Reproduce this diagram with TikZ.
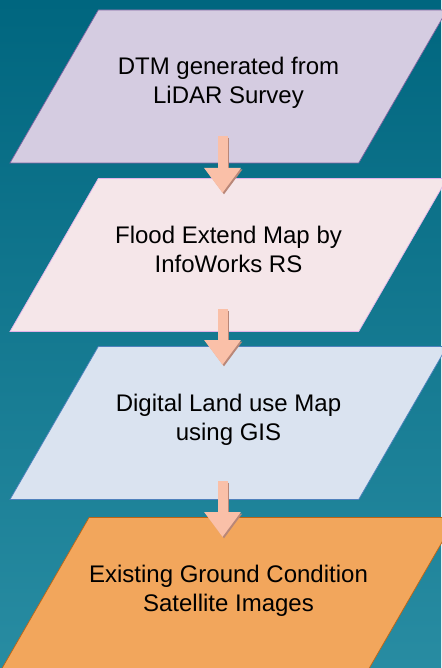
\documentclass[tikz,border=0pt]{standalone}
\usepackage{fontspec}
\setmainfont{Liberation Sans}
\usetikzlibrary{shapes.geometric}
\usetikzlibrary{arrows.meta}

\definecolor{bgtop}{RGB}{0,102,127}
\definecolor{bgbottom}{RGB}{40,140,162}
\definecolor{dtmfill}{RGB}{213,204,225}
\definecolor{dtmline}{RGB}{128,100,162}
\definecolor{floodfill}{RGB}{245,230,233}
\definecolor{floodline}{RGB}{226,178,232}
\definecolor{landfill}{RGB}{218,227,240}
\definecolor{landline}{RGB}{79,129,189}
\definecolor{groundfill}{RGB}{242,166,92}
\definecolor{groundline}{RGB}{190,100,20}
\definecolor{arrowfill}{RGB}{250,192,168}
\definecolor{arrowshade}{RGB}{185,135,120}

\begin{document}
\begin{tikzpicture}[x=1pt,y=-1pt,
	stage/.style={trapezium, trapezium left angle=60, trapezium right angle=120,
		trapezium stretches body=true, minimum width=437pt,
		text height=93.5pt, text depth=59.5pt, inner sep=0pt,
		line width=0.7pt, align=center, font=\fontsize{24}{29}\selectfont},
	flow/.style={line width=10pt, draw=arrowfill, -{Triangle[width=35pt,length=25pt]}},
	flowshadow/.style={flow, draw=arrowshade, transform canvas={shift={(1.5pt,-1.5pt)}}}]
	\shade[top color=bgtop, bottom color=bgbottom] (0,0) rectangle (441,668);
	\useasboundingbox (0,0) rectangle (441,668);
	% the four stages
	\node[stage, fill=dtmfill, draw=dtmline] (dtm) at (228.5,86.5) {DTM generated from\\LiDAR Survey};
	\node[stage, fill=floodfill, draw=floodline] (flood) at (228.5,255) {Flood Extend Map by\\InfoWorks RS};
	\node[stage, fill=landfill, draw=landline] (land) at (228.5,423) {Digital Land use Map\\using GIS};
	\node[stage, fill=groundfill, draw=groundline] (ground) at (228.5,594) {Existing Ground Condition\\Satellite Images};
	% block arrows with shadow
	\draw[flowshadow] ([xshift=-6pt,yshift=-50pt]dtm.center) -- ([xshift=-6pt,yshift=62pt]flood.center);
	\draw[flow] ([xshift=-6pt,yshift=-50pt]dtm.center) -- ([xshift=-6pt,yshift=62pt]flood.center);
	\draw[flowshadow] ([xshift=-6pt,yshift=-54pt]flood.center) -- ([xshift=-6pt,yshift=58pt]land.center);
	\draw[flow] ([xshift=-6pt,yshift=-54pt]flood.center) -- ([xshift=-6pt,yshift=58pt]land.center);
	\draw[flowshadow] ([xshift=-6pt,yshift=-58pt]land.center) -- ([xshift=-6pt,yshift=57pt]ground.center);
	\draw[flow] ([xshift=-6pt,yshift=-58pt]land.center) -- ([xshift=-6pt,yshift=57pt]ground.center);
\end{tikzpicture}
\end{document}
